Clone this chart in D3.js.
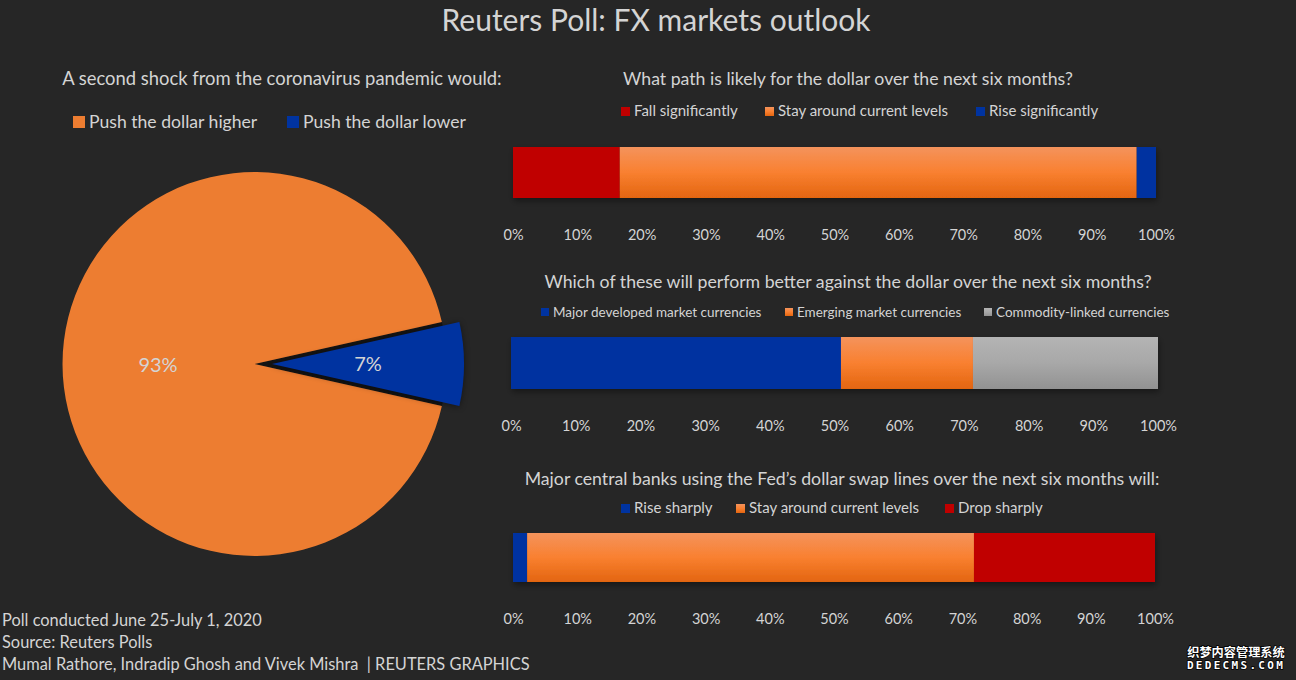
<!DOCTYPE html>
<html>
<head>
<meta charset="utf-8">
<script src="https://cdn.jsdelivr.net/npm/d3@7"></script>
<style>
    html, body { margin: 0; padding: 0; background: #262626; overflow: hidden; }
    text { font-family: Lato, "Open Sans", sans-serif; fill: #d4d4d4; }
    .domain { display: none; }
    .tick line { display: none; }
</style>
</head>
<body>
<svg id="chart" width="1296" height="680"></svg>
<script>
const ticks = [0, 10, 20, 30, 40, 50, 60, 70, 80, 90, 100];

const pieLabels = ['Push the dollar higher', 'Push the dollar lower'];
const pieValues = [93, 7];

const pathLabels = ['Fall significantly', 'Stay around current levels', 'Rise significantly'];
const pathValues = [16.6, 80.4, 3];

const performLabels = ['Major developed market currencies', 'Emerging market currencies', 'Commodity-linked currencies'];
const performValues = [51, 20.4, 28.6];

const swapLabels = ['Rise sharply', 'Stay around current levels', 'Drop sharply'];
const swapValues = [2.2, 69.6, 28.2];

const footerLines = [
    'Poll conducted June 25-July 1, 2020',
    'Source: Reuters Polls',
    'Mumal Rathore, Indradip Ghosh and Vivek Mishra  | REUTERS GRAPHICS'
];

const RED = '#c00000', BLUE = '#0033a0', ORANGE = '#ed7d31';

const svg = d3.select('#chart');
const defs = svg.append('defs');

// Excel style gradient on the orange and grey fills
function addGradient(id, stops) {
    const g = defs.append('linearGradient').attr('id', id)
        .attr('x1', 0).attr('y1', 0).attr('x2', 0).attr('y2', 1);
    stops.forEach(s => g.append('stop').attr('offset', s[0]).attr('stop-color', s[1]));
}
addGradient('grad-orange', [[0, '#f4935c'], [0.5, '#f98030'], [1, '#e36510']]);
addGradient('grad-gray', [[0, '#b4b4b4'], [0.5, '#a8a8a8'], [1, '#929292']]);

const shadow = defs.append('filter').attr('id', 'shadow')
    .attr('x', '-10%').attr('y', '-10%').attr('width', '120%').attr('height', '130%');
shadow.append('feDropShadow').attr('dx', 1).attr('dy', 3).attr('stdDeviation', 3)
    .attr('flood-color', '#000').attr('flood-opacity', 0.4);

svg.append('text').attr('x', 656).attr('y', 31).attr('text-anchor', 'middle')
    .style('font-size', '30px').text('Reuters Poll: FX markets outlook');

// Pie on the left
svg.append('text').attr('x', 282).attr('y', 85).attr('text-anchor', 'middle')
    .style('font-size', '18.4px').text('A second shock from the coronavirus pandemic would:');

const pieLegend = [[73, ORANGE], [287, BLUE]];
pieLabels.forEach((label, i) => {
    svg.append('rect').attr('x', pieLegend[i][0]).attr('y', 116).attr('width', 12).attr('height', 12)
        .attr('fill', pieLegend[i][1]);
    svg.append('text').attr('x', pieLegend[i][0] + 16).attr('y', 128)
        .style('font-size', '17.6px').text(label);
});

const pieStart = (90 + 12.6) * Math.PI / 180;
const pie = d3.pie().sort(null).startAngle(pieStart).endAngle(pieStart + 2 * Math.PI);
const arc = d3.arc().innerRadius(0).outerRadius(192);
const pieColors = [ORANGE, BLUE];
const pieOffsets = [0, 17.5];
const pieG = svg.append('g').attr('transform', 'translate(254.5,364)');
const pieArcs = pie(pieValues);

// dark notch left behind by the pulled out slice
pieG.append('path').attr('d', arc(pieArcs[1])).attr('fill', '#141414');

pieG.selectAll('g.slice')
    .data(pieArcs)
    .enter().append('g')
    .attr('class', 'slice')
    .attr('transform', (d, i) => `translate(${pieOffsets[i]},0)`)
    .each(function(d, i) {
        const g = d3.select(this);
        g.append('path').attr('d', arc(d)).attr('fill', pieColors[i])
            .style('filter', i == 1 ? 'drop-shadow(0 1px 3px rgba(0,0,0,0.45))' : null);
    });

svg.append('text').attr('x', 158).attr('y', 372).attr('text-anchor', 'middle')
    .style('font-size', '20px').text(pieValues[0] + '%');
svg.append('text').attr('x', 368).attr('y', 371).attr('text-anchor', 'middle')
    .style('font-size', '20px').text(pieValues[1] + '%');

// One stacked bar with its title, legend and axis
function stackedBar(o) {
    const x = d3.scaleLinear().domain([0, 100]).range([o.x0, o.x1]);

    svg.append('text').attr('x', o.titleX).attr('y', o.titleY).attr('text-anchor', 'middle')
        .style('font-size', '17.7px').text(o.title);

    o.labels.forEach((label, i) => {
        svg.append('rect').attr('x', o.legendX[i]).attr('y', o.legendY - 9).attr('width', o.swatch).attr('height', o.swatch)
            .attr('fill', o.legendColors[i]);
        svg.append('text').attr('x', o.legendX[i] + o.swatch + 4).attr('y', o.legendY)
            .style('font-size', o.legendSize + 'px').text(label);
    });

    let sum = 0;
    const segs = o.values.map((v, i) => {
        const s = { start: sum, end: sum + v, fill: o.fills[i] };
        sum += v;
        return s;
    });
    const g = svg.append('g').attr('filter', 'url(#shadow)');
    g.selectAll('rect')
        .data(segs)
        .enter().append('rect')
        .attr('x', d => x(d.start))
        .attr('y', o.y0)
        .attr('width', d => x(d.end) - x(d.start))
        .attr('height', o.y1 - o.y0)
        .attr('fill', d => d.fill);

    const axis = d3.axisBottom(x).tickValues(ticks).tickFormat(d => d + '%').tickSize(0).tickPadding(0);
    svg.append('g')
        .attr('transform', `translate(0,${o.axisY})`)
        .call(axis)
        .selectAll('text')
        .attr('dy', 0)
        .style('font-size', '14.5px')
        .style('fill', '#d4d4d4');
}

stackedBar({
    title: 'What path is likely for the dollar over the next six months?',
    titleX: 848, titleY: 85,
    labels: pathLabels, values: pathValues,
    fills: [RED, 'url(#grad-orange)', BLUE],
    legendColors: [RED, 'url(#grad-orange)', BLUE],
    legendX: [621, 765, 976], legendY: 116, swatch: 9, legendSize: 15,
    x0: 513, x1: 1156, y0: 147, y1: 198, axisY: 240
});

stackedBar({
    title: 'Which of these will perform better against the dollar over the next six months?',
    titleX: 848, titleY: 288,
    labels: performLabels, values: performValues,
    fills: [BLUE, 'url(#grad-orange)', 'url(#grad-gray)'],
    legendColors: [BLUE, 'url(#grad-orange)', 'url(#grad-gray)'],
    legendX: [541, 785, 984], legendY: 317, swatch: 8, legendSize: 13.5,
    x0: 511, x1: 1158, y0: 337, y1: 389, axisY: 431
});

stackedBar({
    title: 'Major central banks using the Fed\u2019s dollar swap lines over the next six months will:',
    titleX: 842, titleY: 485,
    labels: swapLabels, values: swapValues,
    fills: [BLUE, 'url(#grad-orange)', RED],
    legendColors: [BLUE, 'url(#grad-orange)', RED],
    legendX: [621, 736, 945], legendY: 513, swatch: 9, legendSize: 15,
    x0: 513, x1: 1155, y0: 533, y1: 582, axisY: 624
});

// Footer
footerLines.forEach((line, i) => {
    svg.append('text').attr('x', 2).attr('y', 626 + i * 22)
        .style('font-size', '16.4px').style('white-space', 'pre').text(line);
});

// Site stamp in the corner
svg.append('text').attr('x', 1236).attr('y', 657).attr('text-anchor', 'middle')
    .style('font-family', '"Noto Sans CJK SC"').style('font-size', '12.2px').style('font-weight', 700)
    .style('fill', '#fff').style('stroke', '#000').style('stroke-width', 1.5).style('paint-order', 'stroke')
    .text('织梦内容管理系统');
svg.append('text').attr('x', 1236).attr('y', 669).attr('text-anchor', 'middle')
    .style('font-family', '"DejaVu Sans Mono"').style('font-size', '11px').style('font-weight', 700)
    .style('letter-spacing', '2.3px')
    .style('fill', '#fff').style('stroke', '#000').style('stroke-width', 1.5).style('paint-order', 'stroke')
    .text('DEDECMS.COM');
</script>
</body>
</html>
